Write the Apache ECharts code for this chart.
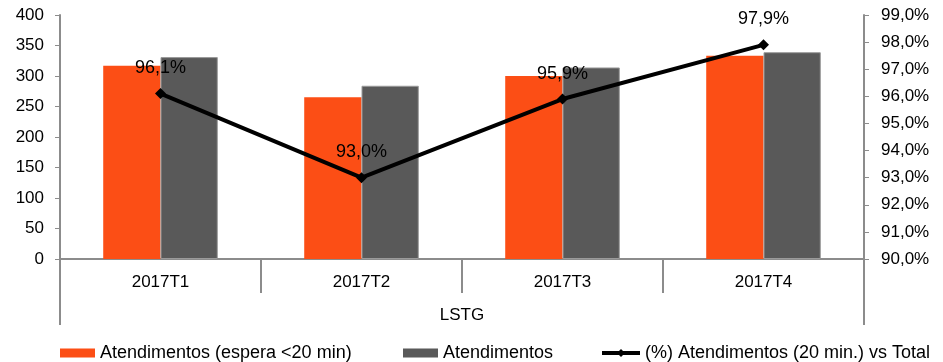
<!DOCTYPE html>
<html>
<head>
<meta charset="utf-8">
<script src="https://cdn.jsdelivr.net/npm/echarts@6/dist/echarts.min.js"></script>
<style>html,body{margin:0;padding:0;background:#fff;}#c{width:943px;height:362px;}</style>
</head>
<body>
<div id="c"></div>
<script>
const categories = ['2017T1', '2017T2', '2017T3', '2017T4'];
const groupLabel = ['LSTG'];
const espera20 = [317, 265, 300, 333];
const atendimentos = [331, 284, 314, 339];
const percent = [96.1, 93.0, 95.9, 97.9];
const seriesNames = ['Atendimentos (espera <20 min)', 'Atendimentos', '(%) Atendimentos (20 min.) vs Total'];

const FONT = 'Liberation Sans, Arial, sans-serif';
const axisColor = '#8c8c8c';
const fmtPct = v => v.toFixed(1).replace('.', ',') + '%';
const legText = { fontSize: 18, color: '#000', fontFamily: FONT };

const chart = echarts.init(document.getElementById('c'));
chart.setOption({
  animation: false,
  textStyle: { fontFamily: FONT, color: '#000' },
  grid: { left: 60, right: 79, top: 15, bottom: 103 },
  legend: [
    { data: [{ name: seriesNames[0], icon: 'rect' }], left: 55, top: 339, itemWidth: 35, itemHeight: 9, itemGap: 5, textStyle: legText },
    { data: [{ name: seriesNames[1], icon: 'rect', itemStyle: { borderWidth: 0 } }], left: 398, top: 339, itemWidth: 35, itemHeight: 9, textStyle: legText },
    { data: [seriesNames[2]], left: 595, top: 339, itemWidth: 38, itemHeight: 10, textStyle: legText, lineStyle: { width: 4 } }
  ],
  xAxis: [
    {
      type: 'category', data: categories, position: 'bottom',
      axisLine: { lineStyle: { color: axisColor, width: 2 } },
      axisTick: { show: true, interval: 0, length: 34, lineStyle: { color: axisColor, width: 2 } },
      axisLabel: { fontSize: 17, color: '#000', margin: 15, fontFamily: FONT }
    },
    {
      type: 'category', data: groupLabel, position: 'bottom',
      axisLine: { show: false },
      axisTick: { show: true, length: 66, lineStyle: { color: axisColor, width: 2 } },
      axisLabel: { fontSize: 17, color: '#000', margin: 48, fontFamily: FONT }
    }
  ],
  yAxis: [
    {
      type: 'value', min: 0, max: 400, interval: 50,
      axisLine: { show: true, lineStyle: { color: axisColor, width: 2 } },
      axisTick: { show: true, length: 5, lineStyle: { color: axisColor } },
      splitLine: { show: false },
      axisLabel: { fontSize: 17, color: '#000', margin: 16, fontFamily: FONT }
    },
    {
      type: 'value', min: 90, max: 99, interval: 1, position: 'right',
      axisLine: { show: true, lineStyle: { color: axisColor, width: 2 } },
      axisTick: { show: true, length: 5, lineStyle: { color: axisColor } },
      splitLine: { show: false },
      axisLabel: { fontSize: 17, color: '#000', margin: 17, fontFamily: FONT, formatter: fmtPct }
    }
  ],
  series: [
    {
      name: seriesNames[0], type: 'bar', data: espera20, barWidth: '28.5%', barGap: '0%',
      itemStyle: { color: '#FC4E15' }
    },
    {
      name: seriesNames[1], type: 'bar', data: atendimentos, barWidth: '28.5%', barGap: '0%',
      itemStyle: { color: '#595959', borderColor: '#9a9a9a', borderWidth: 1 }
    },
    {
      name: seriesNames[2], type: 'line', yAxisIndex: 1, data: percent,
      lineStyle: { color: '#000', width: 4 }, itemStyle: { color: '#000' },
      symbol: 'diamond', symbolSize: 11,
      label: { show: true, position: 'top', distance: 11, fontSize: 18, color: '#000', fontFamily: FONT, formatter: p => fmtPct(p.value) },
      z: 10
    }
  ]
});
</script>
</body>
</html>
